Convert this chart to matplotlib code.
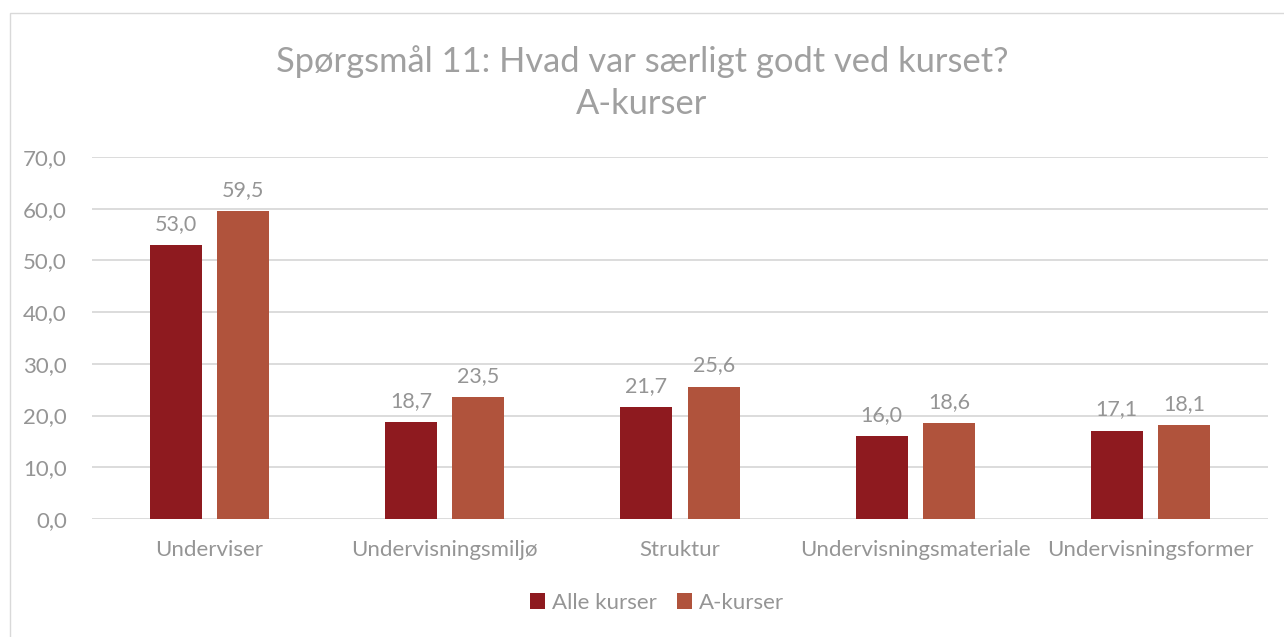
import numpy as np
import matplotlib.pyplot as plt
from matplotlib.patches import Rectangle

categories = ["Underviser", "Undervisningsmiljø", "Struktur",
              "Undervisningsmateriale", "Undervisningsformer"]
alle_kurser = [53.0, 18.7, 21.7, 16.0, 17.1]
a_kurser = [59.5, 23.5, 25.6, 18.6, 18.1]
series_names = ["Alle kurser", "A-kurser"]

DARK_RED = "#8E1A1F"
BRICK = "#B0533C"
TEXT_GRAY = "#959595"
GRID = "#D9D9D9"

plt.rcParams["font.family"] = ["Lato", "DejaVu Sans"]

fig = plt.figure(figsize=(12.84, 6.37), dpi=100)
fig.patch.set_facecolor("white")
fig.patches.append(Rectangle((10 / 1284, -0.01), 1.02, 1 - 13 / 637 + 0.01,
                             transform=fig.transFigure, fill=False,
                             edgecolor="#D9D9D9", linewidth=1.0))

ax = fig.add_axes([92 / 1284, 1 - 519 / 637, 1176 / 1284, (519 - 157) / 637])

x = np.arange(len(categories))
w = 0.221
off = 0.143
b1 = ax.bar(x - off, alle_kurser, w, color=DARK_RED, label=series_names[0], zorder=2)
b2 = ax.bar(x + off, a_kurser, w, color=BRICK, label=series_names[1], zorder=2)

for bars in (b1, b2):
    for rect in bars:
        h = rect.get_height()
        ax.annotate(f"{h:.1f}".replace(".", ","),
                    (rect.get_x() + rect.get_width() / 2, h),
                    xytext=(0, 8), textcoords="offset points",
                    ha="center", va="bottom", fontsize=15.5, color=TEXT_GRAY)

ax.set_xlim(-0.5, len(categories) - 0.5)
ax.set_ylim(0, 70)
ax.set_yticks(np.arange(0, 71, 10))
ax.set_yticklabels([f"{v:.1f}".replace(".", ",") for v in np.arange(0, 71, 10)])
ax.set_xticks(x)
ax.set_xticklabels(categories)
ax.tick_params(axis="both", length=0, labelsize=16, colors=TEXT_GRAY)
ax.tick_params(axis="y", pad=18)
ax.tick_params(axis="x", pad=15)
ax.grid(axis="y", color=GRID, linewidth=1.3, zorder=0)
ax.set_axisbelow(True)
for s in ax.spines.values():
    s.set_visible(False)

fig.text(0.5, 1 - 62 / 637, "Spørgsmål 11: Hvad var særligt godt ved kurset?",
         ha="center", va="center", fontsize=24.8, color="#A0A0A0")
fig.text(0.5, 1 - 104 / 637, "A-kurser",
         ha="center", va="center", fontsize=24.8, color="#A0A0A0")

fig.legend(handles=[b1, b2], labels=series_names, loc="center",
           bbox_to_anchor=(657 / 1284, 1 - 603 / 637), ncol=2, frameon=False,
           fontsize=16, labelcolor=TEXT_GRAY, handlelength=0.7, handleheight=0.7,
           handletextpad=0.3, columnspacing=0.9)

fig.savefig("out.png", dpi=100, facecolor="white")
